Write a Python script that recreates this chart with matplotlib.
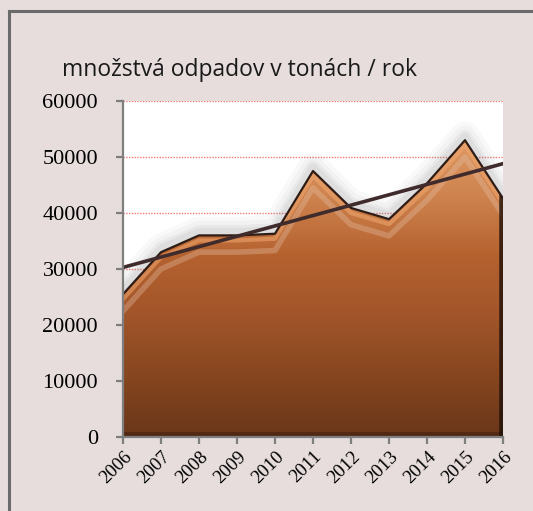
import numpy
import matplotlib
matplotlib.use("Agg")
import matplotlib.pyplot as pyplot
from matplotlib.colors import LinearSegmentedColormap
from matplotlib.patches import Polygon
from matplotlib.lines import Line2D

# --- data ---
years = [2006, 2007, 2008, 2009, 2010, 2011, 2012, 2013, 2014, 2015, 2016]
waste = [25500, 33000, 36000, 36000, 36300, 47500, 40900, 38900, 45300, 53000, 42600]
yTicks = [0, 10000, 20000, 30000, 40000, 50000, 60000]
title = "množstvá odpadov v tonách / rok"

pyplot.rcParams["font.family"] = "Liberation Serif"

backgroundColor = "#e6dddc"
axisColor = "#7f7f7f"

figure = pyplot.figure(figsize=(5.33, 5.11), dpi=100, facecolor=backgroundColor)
axis = figure.add_axes([123/533, 1 - 437/511, (503 - 123)/533, (437 - 101)/511])
axis.set_facecolor("white")

x = numpy.array(years, dtype=float)
y = numpy.array(waste, dtype=float)

# soft grey shadow above the area
for width, alpha in [(22, 0.04), (16, 0.05), (10, 0.07), (6, 0.08)]:
    axis.plot(x, y + 600, color="#707070", linewidth=width, alpha=alpha,
              solid_joinstyle="round", zorder=1)

# gradient fill clipped to the area
cmap = LinearSegmentedColormap.from_list(
    "brown", ["#6a361a", "#86461f", "#a2552a", "#b5622f", "#cf844f", "#e09a65"])
gradient = numpy.linspace(0, 1, 256).reshape(-1, 1)
image = axis.imshow(gradient, cmap=cmap, origin="lower", aspect="auto",
                    extent=[x[0], x[-1], 0, 54000], zorder=2)
vertices = [(x[0], 0)] + list(zip(x, y)) + [(x[-1], 0)]
clip = Polygon(vertices, closed=True, transform=axis.transData,
               facecolor="none", edgecolor="none")
axis.add_patch(clip)
image.set_clip_path(clip)

# bevel: light band just under the top edge, dark band along bottom/right
axis.plot(x, y - 3000, color="#e6c0a8", linewidth=4, alpha=0.35, zorder=3,
          clip_path=clip)
axis.plot(x, y - 900, color="#f2a870", linewidth=3, alpha=0.55, zorder=3,
          clip_path=clip)
axis.plot([x[0], x[-1]], [300, 300], color="#3a1d0d", linewidth=5, alpha=0.5,
          zorder=3, clip_path=clip)
axis.plot([x[-1] - 0.02, x[-1] - 0.02], [0, y[-1]], color="#1e0f08",
          linewidth=4, alpha=0.8, zorder=3, clip_path=clip)

# dark outline along the top
axis.plot(x, y, color="#2e1c16", linewidth=1.6, zorder=4)

# linear trend line
slope, intercept = numpy.polyfit(x, y, 1)
axis.plot(x, slope * x + intercept, color="#3f2b2b", linewidth=2.6, zorder=5)

# gridlines
for value in yTicks[1:]:
    axis.axhline(value, color="#e85a5a", linewidth=1.0, linestyle=(0, (1, 1)),
                 alpha=0.8, zorder=0)

axis.set_xlim(x[0], x[-1])
axis.set_ylim(0, 60000)
axis.set_yticks(yTicks)
axis.set_xticks(years)

for side in ["top", "right"]:
    axis.spines[side].set_visible(False)
for side in ["left", "bottom"]:
    axis.spines[side].set_color(axisColor)
    axis.spines[side].set_linewidth(1.6)
    axis.spines[side].set_zorder(6)

axis.tick_params(axis="y", direction="out", length=5, width=1.6, color=axisColor,
                 labelsize=16, labelcolor="black", pad=13)
axis.tick_params(axis="x", direction="out", length=5, width=1.6, color=axisColor,
                 labelsize=13.5, labelcolor="black", pad=3)
for label in axis.get_xticklabels():
    label.set_rotation(45)
    label.set_ha("right")
    label.set_va("top")
    label.set_rotation_mode("anchor")

figure.text(62/533, 1 - 70/511, title, fontsize=16.5, family="Open Sans",
            color="#1a1a1a", ha="left", va="center")

# outer frame (cut off on right and bottom)
frameColor = "#6b6b6b"
figure.add_artist(Line2D([9/533, 1.05], [1 - 11/511, 1 - 11/511],
                         transform=figure.transFigure, color=frameColor,
                         linewidth=2.2))
figure.add_artist(Line2D([9/533, 9/533], [-0.05, 1 - 11/511],
                         transform=figure.transFigure, color=frameColor,
                         linewidth=2.2))

figure.savefig("out.png", dpi=100, facecolor=backgroundColor)
